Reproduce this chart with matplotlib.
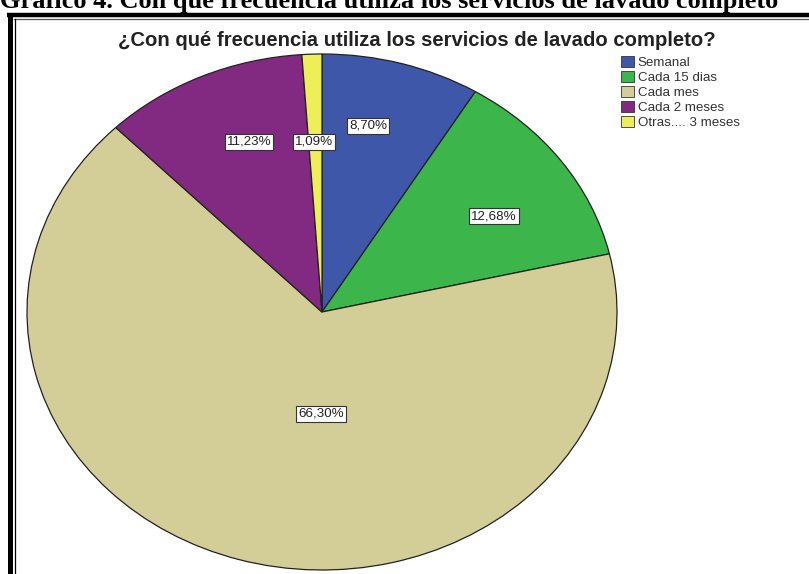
import matplotlib
matplotlib.use("Agg")
import matplotlib.pyplot as plt
from matplotlib.lines import Line2D
from matplotlib.patches import Patch

# frequency categories and their shares (%)
categorias = ["Semanal", "Cada 15 dias", "Cada mes", "Cada 2 meses", "Otras.... 3 meses"]
porcentajes = [8.70, 12.68, 66.30, 11.23, 1.09]
colores = ["#3F57A8", "#3CB54B", "#D3CE98", "#822A82", "#EEEE58"]

# where SPSS dropped each percentage box (pie data coords)
pos_etiquetas = [(0.156, 0.721), (0.583, 0.372), (-0.003, -0.395),
                 (-0.247, 0.659), (-0.027, 0.659)]

W, H = 809, 574
fig = plt.figure(figsize=(W / 100, H / 100), dpi=100)

# caption above the frame (top half falls off the page)
fig.text(0.0, 1 - 8 / H, "Gráfico 4. Con qué frecuencia utiliza los servicios de lavado completo",
         family="Liberation Serif", fontweight="bold", fontsize=19,
         ha="left", va="baseline", color="black")

# double frame lines, top and left
fig.add_artist(Line2D([7 / W, 1], [1 - 15 / H, 1 - 15 / H], color="black", lw=3.2,
                      transform=fig.transFigure, solid_capstyle="butt"))
fig.add_artist(Line2D([14 / W, 1], [1 - 19 / H, 1 - 19 / H], color="#555555", lw=0.9,
                      transform=fig.transFigure))
fig.add_artist(Line2D([9.5 / W, 9.5 / W], [0, 1 - 13 / H], color="black", lw=3.6,
                      transform=fig.transFigure, solid_capstyle="butt"))
fig.add_artist(Line2D([15 / W, 15 / W], [0, 1 - 19 / H], color="black", lw=0.9,
                      transform=fig.transFigure))

# elliptical pie: centre (322, 312), radii 295 x 258 px
cx, cy, rx, ry = 322, 312, 295, 258
ax = fig.add_axes([(cx - rx) / W, (H - cy - ry) / H, 2 * rx / W, 2 * ry / H])
ax.pie(porcentajes, colors=colores, startangle=90, counterclock=False,
       wedgeprops=dict(edgecolor="#222222", linewidth=0.9))
ax.set_aspect("auto")
ax.set_xlim(-1, 1)
ax.set_ylim(-1, 1)
ax.axis("off")

for v, (x, y) in zip(porcentajes, pos_etiquetas):
    ax.text(x, y, f"{v:.2f}%".replace(".", ","), ha="center", va="center",
            family="Liberation Sans", fontsize=9.6, color="#222222",
            bbox=dict(boxstyle="square,pad=0.15", fc="white", ec="#333333", lw=0.8))

fig.text(417 / W, 1 - 41 / H, "¿Con qué frecuencia utiliza los servicios de lavado completo?",
         family="Liberation Sans", fontweight="bold", fontsize=14.6,
         ha="center", va="center", color="#222222")

handles = [Patch(facecolor=c, edgecolor="#333333", lw=0.6) for c in colores]
fig.legend(handles, categorias, loc="upper left", bbox_to_anchor=(621 / W, 1 - 56 / H),
           frameon=False, prop=dict(family="Liberation Sans", size=9.6),
           handlelength=0.95, handleheight=0.85, handletextpad=0.3,
           labelspacing=0.16, borderpad=0, borderaxespad=0, labelcolor="#333333")

fig.savefig("out.png", dpi=100)
